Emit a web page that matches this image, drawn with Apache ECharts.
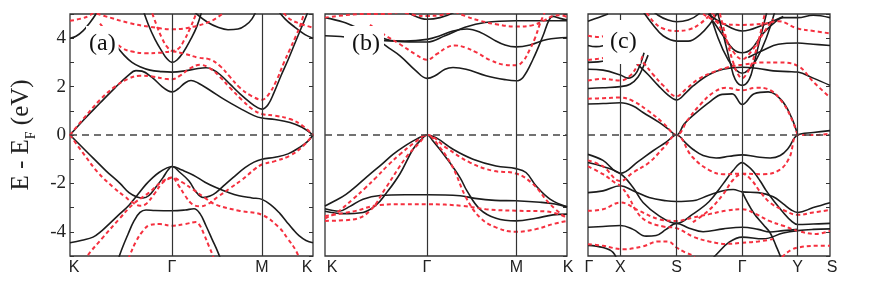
<!DOCTYPE html>
<html><head><meta charset="utf-8">
<script src="https://cdn.jsdelivr.net/npm/echarts@6/dist/echarts.min.js"></script>
<style>html,body{margin:0;padding:0;background:#fff}#c{width:872px;height:287px}</style>
</head><body><div id="c"></div>
<script>
// ---- k-path ticks ----
const aTickPos = [0, 102, 192, 243];
const aTickLbl = ['K', 'Γ', 'M', 'K'];
const bTickPos = [0, 102, 191.4, 242];
const bTickLbl = ['K', 'Γ', 'M', 'K'];
const cTickPos = [0, 32.4, 88.4, 154, 209.4, 241.7];
const cTickLbl = ['Γ', 'X', 'S', 'Γ', 'Y', 'S'];
const eMin = -5, eMax = 5;

// ---- panel (a) bands: [k, E] ----
const aSolid = [
 [[0,0],[15,0.68],[30,1.32],[45,1.95],[58,2.45],[66,2.66],[72,2.64],[82,2.38],[92,2.0],[98,1.83],[102,1.78],[108,1.9],[115,2.15],[121,2.25],[128,2.15],[140,1.85],[155,1.45],[170,1.1],[184,0.8],[192,0.7],[205,0.64],[220,0.52],[232,0.32],[243,0]],
 [[35,4.3],[45,3.75],[54,3.3],[62,3.0],[70,2.82],[80,2.68],[92,2.62],[102,2.6],[115,2.65],[128,2.75],[136,2.78],[142,2.72],[150,2.5],[160,2.1],[170,1.7],[180,1.35],[188,1.12],[192,1.07],[198,1.25],[204,1.75],[211,2.45],[218,3.1],[225,3.8],[231,4.4],[238,5.1],[240,5.4]],
 [[72,5.3],[78,4.6],[85,3.95],[92,3.45],[97,3.15],[102,3.0],[107,3.1],[113,3.4],[120,3.9],[127,4.5],[133,5.3]],
 [[120,5.3],[128,4.95],[138,4.65],[148,4.45],[158,4.35],[168,4.38],[176,4.55],[182,4.8],[188,5.3]],
 [[205,5.3],[215,4.8],[225,4.45],[235,4.15],[243,4.0]],
 [[0,4.0],[6,4.08],[13,4.3],[20,4.65],[26,5.0],[30,5.3]],
 [[0,0],[16,-0.66],[36,-1.48],[50,-2.0],[59,-2.38],[67,-2.56],[73,-2.6],[79,-2.5],[85,-2.2],[93,-1.76],[98,-1.45],[102,-1.3],[110,-1.55],[119,-1.9],[126,-2.35],[133,-2.58],[140,-2.52],[146,-2.38],[155,-2.05],[163,-1.76],[175,-1.35],[184,-1.12],[192,-1.0],[205,-0.92],[218,-0.78],[230,-0.5],[238,-0.25],[243,0]],
 [[0,-4.45],[12,-4.35],[23,-4.22],[32,-3.95],[39,-3.68],[50,-3.25],[59,-2.9],[68,-2.45],[76,-2.04],[83,-1.75],[89,-1.55],[96,-1.38],[102,-1.3],[112,-1.45],[123,-1.65],[135,-1.95],[146,-2.17],[158,-2.37],[169,-2.51],[182,-2.6],[192,-2.66],[202,-2.93],[210,-3.25],[216,-3.55],[223,-3.9],[229,-4.16],[236,-4.36],[243,-4.45]],
 [[46,-5.4],[52,-4.7],[58,-4.1],[64,-3.55],[70,-3.2],[76,-3.1],[85,-3.12],[102,-3.13],[115,-3.1],[124,-3.05],[130,-3.25],[136,-3.75],[142,-4.3],[148,-4.85],[153,-5.4]]
];
const aDashed = [
 [[0,0],[15,0.75],[30,1.45],[45,2.0],[58,2.32],[70,2.45],[82,2.42],[95,2.32],[102,2.3],[110,2.45],[120,2.75],[130,2.9],[140,2.75],[150,2.4],[160,1.95],[172,1.45],[183,1.05],[192,0.87],[205,0.8],[220,0.66],[232,0.4],[243,0]],
 [[30,4.6],[42,4.0],[52,3.6],[62,3.45],[75,3.38],[90,3.4],[102,3.45],[115,3.35],[128,3.2],[140,3.12],[150,2.85],[160,2.4],[170,1.95],[182,1.6],[192,1.46],[199,1.7],[207,2.3],[214,3.0],[220,3.55],[226,4.1],[230,4.5],[236,5.3]],
 [[80,5.3],[86,4.6],[92,4.0],[97,3.65],[102,3.48],[108,3.55],[114,3.9],[120,4.4],[126,5.0],[129,5.3]],
 [[20,5.1],[40,4.85],[60,4.62],[80,4.47],[102,4.37],[123,4.47],[143,4.75],[155,5.1]],
 [[0,4.72],[10,4.8],[20,4.95],[28,5.3]],
 [[210,5.3],[218,4.85],[230,4.6],[243,4.44]],
 [[0,0],[14,-0.8],[28,-1.55],[43,-2.15],[55,-2.55],[63,-2.8],[70,-2.92],[76,-2.85],[84,-2.45],[92,-2.0],[98,-1.82],[102,-1.76],[108,-2.05],[115,-2.5],[122,-2.85],[130,-2.95],[138,-2.85],[148,-2.55],[160,-2.2],[172,-1.85],[185,-1.4],[192,-1.22],[205,-1.08],[220,-0.85],[232,-0.5],[243,0]],
 [[14,-5.2],[20,-4.85],[33,-4.23],[49,-3.48],[63,-2.86],[79,-2.38],[93,-1.9],[102,-1.76],[112,-1.95],[123,-2.25],[135,-2.6],[146,-2.88],[169,-3.13],[192,-3.3],[209,-3.82],[218,-4.3],[226,-4.78],[230,-5.2]],
 [[56,-5.4],[60,-4.95],[66,-4.4],[73,-3.96],[80,-3.72],[90,-3.68],[102,-3.75],[115,-3.68],[126,-3.6],[130,-3.75],[134,-4.1],[139,-4.6],[143,-5.0],[146,-5.4]]
];

// ---- panel (b) bands ----
const bSolid = [
 [[0,-2.93],[10,-2.72],[21,-2.45],[33,-2.05],[45,-1.62],[57,-1.2],[68,-0.8],[80,-0.45],[91,-0.18],[102,0],[111,-0.11],[128,-0.59],[148,-1.0],[171,-1.28],[191,-1.39],[201,-1.55],[211,-2.1],[225,-2.65],[242,-2.97]],
 [[0,-3.15],[18,-3.25],[38,-3.2],[51,-2.9],[61,-2.42],[75,-1.6],[88,-0.59],[96,-0.2],[102,0],[108,-0.25],[121,-0.93],[135,-1.76],[142,-2.31],[155,-3.07],[171,-3.44],[191,-3.55],[211,-3.44],[228,-3.3],[242,-3.27]],
 [[0,-3.05],[14,-3.15],[25,-2.95],[38,-2.65],[55,-2.5],[80,-2.47],[102,-2.47],[135,-2.51],[150,-2.62],[170,-2.7],[191,-2.72],[215,-2.78],[230,-2.85],[242,-2.97]],
 [[40,4.4],[53,3.95],[61,3.68],[75,3.27],[91,2.65],[102,2.34],[110,2.45],[120,2.72],[128,2.79],[141,2.72],[161,2.45],[181,2.28],[191,2.24],[198,2.38],[208,3.13],[218,4.1],[224,4.75],[228,4.9],[235,4.82],[242,4.75]],
 [[0,4.1],[20,4.05],[50,3.92],[80,3.88],[102,3.95],[115,4.1],[128,4.3],[142,4.38],[155,4.25],[168,3.95],[180,3.72],[191,3.64],[205,3.72],[222,3.95],[242,4.03]],
 [[0,4.85],[18,4.67],[28,4.5],[45,4.2],[70,3.88],[102,3.84],[120,4.1],[140,4.45],[160,4.65],[191,4.72],[220,4.72],[242,4.72]],
 [[75,5.3],[88,4.95],[102,4.78],[115,4.85],[128,5.05],[135,5.3]]
];
const bDashed = [
 [[0,-3.45],[12,-3.2],[28,-2.65],[40,-2.2],[51,-1.76],[63,-1.25],[75,-0.8],[90,-0.3],[102,0],[121,-0.52],[145,-1.14],[168,-1.48],[191,-1.59],[208,-2.03],[225,-2.86],[242,-3.45]],
 [[0,-3.55],[28,-3.49],[45,-3.13],[61,-2.17],[81,-0.93],[95,-0.3],[102,0],[115,-0.52],[128,-1.35],[141,-2.58],[155,-3.41],[171,-3.82],[191,-4.0],[211,-3.89],[228,-3.68],[242,-3.55]],
 [[0,-3.35],[28,-3.16],[55,-2.89],[80,-2.86],[102,-2.86],[138,-2.93],[161,-3.07],[191,-3.13],[221,-3.16],[242,-3.4]],
 [[45,4.55],[61,4.1],[75,3.75],[90,3.35],[102,3.11],[112,3.35],[122,3.62],[130,3.7],[140,3.62],[152,3.4],[165,3.1],[180,2.9],[191,2.88],[198,3.05],[205,3.55],[210,4.0],[215,4.6],[219,5.0],[222,5.3]],
 [[130,5.1],[140,4.92],[155,4.72],[171,4.58],[191,4.48],[208,4.54],[220,4.75],[228,4.92],[235,4.95],[242,4.88]],
 [[80,5.05],[90,4.95],[102,4.92],[115,4.95],[125,5.05]],
 [[0,4.85],[20,4.95],[40,5.0],[60,5.0],[75,5.1]]
];

// ---- panel (c) bands ----
const cSolid = [
 [[0,-0.8],[15,-1.05],[32.4,-1.58],[50,-1.1],[65,-0.65],[78,-0.3],[88.4,0],[98,-0.35],[105,-0.6],[115,-0.85],[128,-0.95],[141,-0.88],[154,-0.82],[168,-0.9],[182,-0.95],[192,-0.85],[200,-0.55],[209.4,0],[225,0.1],[241.7,0.18]],
 [[0,1.28],[15,1.3],[32.4,1.33],[45,1.2],[55,0.93],[71,0.52],[80,0.25],[88.4,0],[96,0.45],[104.7,0.8],[121,1.35],[134,1.68],[144,1.7],[154,1.26],[166,1.7],[180,1.78],[193,1.45],[203,0.75],[209.4,0]],
 [[40,3.3],[50,2.9],[60,2.5],[70,2.05],[80,1.65],[88.4,1.45],[98,1.75],[105,2.03],[121,2.5],[135,2.72],[154,2.8],[170,2.75],[185,2.65],[200,2.62],[209.4,2.6],[225,2.35],[241.7,2.05]],
 [[0,1.92],[15,1.95],[32.4,2.0],[42,2.1],[50,2.4],[56,2.9],[60,3.3]],
 [[0,2.72],[15,2.68],[32.4,2.48],[40,2.35],[47,2.5],[52,2.9],[56,3.4]],
 [[0,3.0],[10,3.02],[20,3.1]],
 [[0,3.7],[8,3.65],[16,3.7]],
 [[0,4.7],[10,4.85],[20,5.0]],
 [[55,5.1],[65,4.55],[75,4.1],[88.4,3.88],[100,3.88],[112,4.15],[122,4.6],[130,5.1]],
 [[60,5.3],[70,4.95],[80,4.75],[88.4,4.68],[100,4.75],[110,4.98],[115,5.3]],
 [[128,5.3],[136,4.0],[142,3.0],[147,2.3],[154,2.05],[161,2.3],[166,3.0],[172,4.0],[180,5.3]],
 [[120,5.3],[130,4.0],[140,3.1],[148,2.68],[154,2.55],[160,2.68],[168,3.1],[178,4.0],[188,5.3]],
 [[125,4.7],[135,4.1],[145,3.55],[154,3.4],[163,3.55],[173,4.1],[185,4.6],[195,4.85],[209.4,4.85],[225,4.95],[241.7,4.85]],
 [[120,5.0],[135,4.6],[154,4.3],[175,4.55],[195,4.9]],
 [[160,3.2],[175,3.5],[190,3.75],[209.4,3.8],[225,3.75],[241.7,3.7]],
 [[0,-1.14],[15,-1.3],[32.4,-1.6],[45,-2.17],[55,-2.79],[71,-3.34],[88.4,-3.65],[104.7,-3.27],[121,-2.75],[134.7,-2.03],[144.7,-1.48],[154,-1.14],[160,-1.3],[165,-1.5],[172,-1.9],[178,-2.3],[186,-2.75],[195,-3.2],[203,-3.55],[209.4,-3.7],[225,-3.68],[241.7,-3.65]],
 [[0,-2.38],[15,-2.31],[32.4,-2.1],[45,-2.3],[61,-2.58],[78,-2.72],[88.4,-2.75],[104.7,-2.72],[120,-2.5],[135,-2.3],[145,-2.25],[154,-2.35],[170,-2.38],[185,-2.55],[195,-2.85],[203,-3.1],[209.4,-3.2],[225,-3.0],[241.7,-2.8]],
 [[0,-3.81],[15,-3.78],[32.4,-3.74],[45,-3.9],[58,-4.18],[68,-4.15],[78,-3.9],[88.4,-3.65],[101,-3.85],[115,-4.0],[135,-3.88],[154,-3.81],[170,-3.9],[182,-4.01],[195,-3.95],[209.4,-3.9]],
 [[120,-5.3],[128,-4.95],[141,-4.43],[154,-4.22],[175,-4.29],[195,-4.05],[209.4,-3.95],[225,-3.9],[241.7,-3.88]],
 [[0,-4.56],[15,-4.65],[25,-4.85],[30,-5.3]],
 [[154,-2.36],[165,-3.19],[175,-3.7],[182,-4.05],[188,-4.6],[192,-5.0],[194,-5.3]]
];
const cDashed = [
 [[0,-1.05],[15,-1.3],[32.4,-1.9],[45,-1.55],[61,-1.14],[75,-0.55],[88.4,0],[104,-0.9],[121,-1.45],[135,-1.62],[154,-1.6],[175,-1.62],[191,-1.45],[201,-0.95],[209.4,0],[225,0.0],[241.7,0.05]],
 [[0,1.5],[15,1.52],[32.4,1.55],[45,1.4],[60,1.0],[75,0.5],[88.4,0],[100,0.65],[112,1.25],[125,1.75],[138,1.95],[154,1.85],[168,1.95],[182,1.85],[195,1.3],[203,0.7],[209.4,0]],
 [[45,3.4],[55,3.0],[65,2.5],[75,2.05],[88.4,1.6],[98,1.9],[110,2.3],[125,2.6],[140,2.8],[154,2.9],[175,3.0],[190,3.0],[209.4,2.86],[225,2.2],[241.7,1.55]],
 [[104.7,-3.6],[121,-3.1],[135,-2.45],[145,-1.85],[154,-1.6],[163,-1.85],[172,-2.35],[182,-2.8],[195,-3.1],[209.4,-3.3],[225,-3.2],[241.7,-3.1]],
 [[0,-3.13],[15,-3.07],[32.4,-2.79],[51,-3.13],[71,-3.48],[88.4,-3.55],[105,-3.41],[121,-3.27],[138,-3.13],[154,-3.07],[168,-3.27],[181,-3.55],[195,-3.75],[209.4,-3.96],[228,-4.09],[241.7,-3.96]],
 [[0,-1.3],[15,-1.62],[28,-2.0],[32.4,-2.1],[41,-2.58],[48,-3.13],[58,-3.55],[75,-3.78],[88.4,-3.85],[105,-4.2],[121,-4.4],[138,-4.5],[154,-4.45],[170,-4.4],[185,-4.3]],
 [[0,-4.51],[15,-4.58],[35,-4.72],[55,-4.6],[70,-4.4],[80,-4.4],[88.4,-4.65],[97,-4.85],[105,-5.0],[110,-5.3]],
 [[190,-5.3],[195,-5.0],[203,-4.75],[209.4,-4.65],[228,-4.58],[241.7,-4.58]],
 [[130,5.3],[138,4.0],[145,3.0],[150,2.5],[154,2.35],[158,2.5],[164,3.0],[171,4.0],[178,5.3]],
 [[125,5.0],[135,4.2],[145,3.45],[154,3.13],[163,3.45],[175,4.2],[185,4.8]],
 [[115,5.0],[135,4.6],[154,4.55],[175,4.6],[190,4.7],[209.4,4.4],[225,4.3],[241.7,4.2]],
 [[0,2.25],[15,2.32],[32.4,2.25],[42,2.45],[50,2.9],[55,3.3]],
 [[0,3.1],[10,3.15],[18,3.2]],
 [[0,4.1],[10,4.05],[18,4.1]],
 [[55,5.3],[65,4.7],[75,4.4],[88.4,4.3],[100,4.35],[112,4.6],[125,5.1]]
];

// ---- build chart ----
const panels = [
  {solid: aSolid, dashed: aDashed, pos: aTickPos, lbl: aTickLbl, shift: [4, 0, 0, -6], grid: {left: 70, top: 14, width: 243, height: 242}, yLabels: true},
  {solid: bSolid, dashed: bDashed, pos: bTickPos, lbl: bTickLbl, shift: [7, 0, 0, 1], grid: {left: 325, top: 14, width: 242, height: 242}, yLabels: false},
  {solid: cSolid, dashed: cDashed, pos: cTickPos, lbl: cTickLbl, shift: [1, 0, 0, 0, 0, 2], grid: {left: 588, top: 14, width: 242, height: 242}, yLabels: false}
];
const serif = 'Liberation Serif, Times New Roman, serif';
const sans = 'Liberation Sans, Arial, sans-serif';
const grid = [], xAxis = [], yAxis = [], series = [];
panels.forEach((p, i) => {
  grid.push(Object.assign({show: true, borderColor: '#333', borderWidth: 1.3, backgroundColor: 'transparent'}, p.grid));
  const rich = {};
  p.shift.forEach((s, j) => {
    rich['r' + j] = {fontFamily: sans, fontSize: 16, color: '#222',
      padding: s >= 0 ? [0, 0, 0, 2 * s] : [0, -2 * s, 0, 0]};
  });
  xAxis.push({
    type: 'value', gridIndex: i, min: p.pos[0], max: p.pos[p.pos.length - 1],
    axisLine: {show: false}, splitLine: {show: false},
    axisTick: {show: false},
    axisLabel: {
      customValues: p.pos, margin: 4, color: '#222', fontFamily: sans, fontSize: 16, rich,
      formatter: (v) => { const idx = p.pos.indexOf(v); return idx >= 0 ? '{r' + idx + '|' + p.lbl[idx] + '}' : ''; }
    }
  });
  yAxis.push({
    type: 'value', gridIndex: i, min: eMin, max: eMax, interval: 1, position: 'left',
    axisLine: {show: false}, splitLine: {show: false},
    axisTick: {show: p.yLabels, inside: true, length: 4, lineStyle: {color: '#333'}},
    axisLabel: {show: p.yLabels, margin: 4, color: '#222', fontFamily: serif, fontSize: 19,
      formatter: (v) => (Math.round(v) % 2 === 0 ? String(v) : '')},
    name: p.yLabels ? '{a|E - E}{s|F}{a| (eV)}' : '',
    nameLocation: 'middle', nameRotate: 90, nameGap: 35,
    nameTextStyle: {color: '#222', rich: {
      a: {fontFamily: serif, fontSize: 25, color: '#222', verticalAlign: 'top', lineHeight: 26},
      s: {fontFamily: serif, fontSize: 14, color: '#222', verticalAlign: 'top', padding: [15, 0, 0, 0], lineHeight: 14}
    }}
  });
  yAxis.push({
    type: 'value', gridIndex: i, min: eMin, max: eMax, interval: 1, position: 'right',
    axisLine: {show: false}, splitLine: {show: false},
    axisTick: {show: true, inside: true, length: 4, lineStyle: {color: '#333'}},
    axisLabel: {show: false}
  });
  p.solid.forEach(d => series.push({
    type: 'line', xAxisIndex: i, yAxisIndex: 2 * i, data: d, smooth: 0.4, symbol: 'none',
    lineStyle: {color: '#1c1c1c', width: 1.6}, z: 3, silent: true, animation: false
  }));
  p.dashed.forEach(d => series.push({
    type: 'line', xAxisIndex: i, yAxisIndex: 2 * i, data: d, smooth: 0.4, symbol: 'none',
    lineStyle: {color: '#f5303f', width: 2, type: [4, 3]}, z: 4, silent: true, animation: false
  }));
  series.push({
    type: 'line', xAxisIndex: i, yAxisIndex: 2 * i, data: [], symbol: 'none', silent: true, animation: false,
    markLine: {
      silent: true, symbol: ['none', 'none'], label: {show: false}, animation: false,
      data: p.pos.slice(1, -1).map(x => ({xAxis: x, lineStyle: {color: '#333', width: 1.2, type: 'solid'}}))
        .concat([{yAxis: 0, lineStyle: {color: '#444', width: 1.6, type: [7, 5]}}])
    }
  });
});
const labelStyle = {fontFamily: serif, fontSize: 24, fontWeight: 'normal', color: '#111', lineHeight: 24};
const option = {
  backgroundColor: '#fff',
  animation: false,
  title: [
    {text: '(a)', left: 86, top: 26, padding: [6, 3, 6, 3], backgroundColor: '#fff', textStyle: labelStyle},
    {text: '(b)', left: 344, top: 26, padding: [6, 4, 6, 8], backgroundColor: '#fff', textStyle: labelStyle},
    {text: '(c)', left: 603, top: 20, padding: [10, 4, 10, 7], backgroundColor: '#fff', textStyle: labelStyle}
  ],
  grid, xAxis, yAxis, series
};
const chart = echarts.init(document.getElementById('c'));
chart.setOption(option);
</script></body></html>
